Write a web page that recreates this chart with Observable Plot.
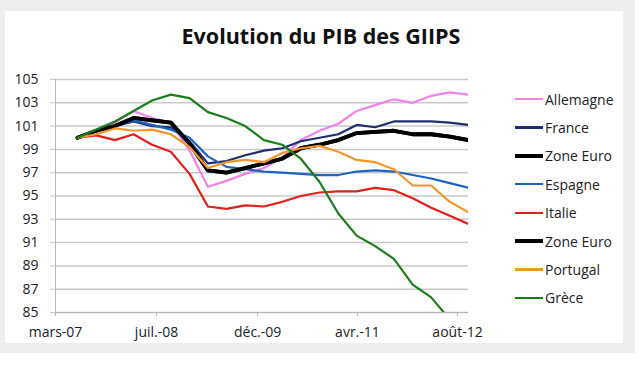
<!DOCTYPE html>
<html><head><meta charset="utf-8">
<script src="https://cdn.jsdelivr.net/npm/d3@7"></script>
<script src="https://cdn.jsdelivr.net/npm/@observablehq/plot@0.6"></script>
<style>
body{margin:0;background:#fff;font-family:"Open Sans",sans-serif;}
#frame{position:absolute;left:0;top:0;width:635px;height:353px;background:#efeeec;}
#panel{position:absolute;left:5px;top:11px;width:618px;height:332px;background:#fff;overflow:hidden;}
#title{position:absolute;left:166px;top:14px;width:300px;text-align:center;font-weight:bold;font-size:21.5px;line-height:21.5px;color:#111;white-space:nowrap;}
#chart{position:absolute;left:0;top:49px;}
#legend{position:absolute;left:510px;top:74px;}
.item{height:28.4px;display:flex;align-items:center;font-size:14px;color:#222;white-space:nowrap;}
.sw{width:28px;margin-right:2px;}
</style>
</head><body>
<div id="frame"><div id="panel">
<div id="title">Evolution du PIB des GIIPS</div>
<div id="chart"></div>
<div id="legend"></div>
</div></div>
<script>
// Quarterly observations
const dates = ["2007-07-01","2007-10-01","2008-01-01","2008-04-01","2008-07-01","2008-10-01",
  "2009-01-01","2009-04-01","2009-07-01","2009-10-01","2010-01-01","2010-04-01","2010-07-01",
  "2010-10-01","2011-01-01","2011-04-01","2011-07-01","2011-10-01","2012-01-01","2012-04-01",
  "2012-07-01","2012-10-01"];

const allemagne = [100, 100.6, 101.3, 102.3, 101.7, 101.3, 98.9, 95.8, 96.3, 96.9, 97.4, 98.3, 99.8, 100.6, 101.2, 102.3, 102.8, 103.3, 103.0, 103.6, 103.9, 103.7];
const france    = [100, 100.6, 101.0, 101.4, 101.0, 100.9, 99.7, 97.8, 98.0, 98.5, 98.9, 99.1, 99.7, 100.0, 100.3, 101.1, 100.9, 101.4, 101.4, 101.4, 101.3, 101.1];
const zoneEuro  = [100, 100.6, 101.0, 101.7, 101.5, 101.3, 99.5, 97.2, 97.0, 97.4, 97.8, 98.2, 99.1, 99.4, 99.8, 100.4, 100.5, 100.6, 100.3, 100.3, 100.1, 99.8];
const espagne   = [100, 100.6, 101.0, 101.5, 101.1, 100.7, 100.0, 98.4, 97.5, 97.3, 97.1, 97.0, 96.9, 96.8, 96.8, 97.1, 97.2, 97.1, 96.8, 96.5, 96.1, 95.7];
const italie    = [100, 100.2, 99.8, 100.3, 99.4, 98.8, 96.9, 94.1, 93.9, 94.2, 94.1, 94.5, 95.0, 95.3, 95.4, 95.4, 95.7, 95.5, 94.8, 94.0, 93.3, 92.6];
const portugal  = [100, 100.3, 100.8, 100.6, 100.7, 100.3, 99.2, 97.4, 97.9, 98.1, 97.9, 98.7, 99.1, 99.3, 98.8, 98.1, 97.9, 97.3, 95.9, 95.9, 94.5, 93.6];
const grece     = [100, 100.7, 101.4, 102.3, 103.2, 103.7, 103.4, 102.2, 101.7, 101.0, 99.8, 99.4, 98.2, 96.2, 93.5, 91.6, 90.7, 89.6, 87.4, 86.3, 84.4, 83.5];

const seriesNames = ["Allemagne","France","Zone Euro","Espagne","Italie","Zone Euro","Portugal","Grèce"];
const seriesValues = [allemagne, france, zoneEuro, espagne, italie, zoneEuro, portugal, grece];

// Axis ticks
const yTicks = [85, 87, 89, 91, 93, 95, 97, 99, 101, 103, 105];
const xTickDates = ["2007-03-15","2008-07-23","2009-12-01","2011-04-05","2012-08-08"];
const xTickLabels = ["mars-07","juil.-08","déc.-09","avr.-11","août-12"];
const xDomain = ["2007-03-15","2012-10-01"];
const yDomain = [85, 105];

// Styles
const colors = ["#ee82ee","#1f2d6e","#000000","#1f63c0","#e0201b","#000000","#f5962a","#1b7d1b"];
const widths = [2.2, 2.2, 3.8, 2.2, 2.2, 3.8, 2.2, 2.2];

const parse = d3.utcParse("%Y-%m-%d");
const tickDates = xTickDates.map(parse);
const labelOf = new Map(tickDates.map((d, i) => [+d, xTickLabels[i]]));

const lines = seriesNames.map((name, s) => {
  const rows = dates.map((d, i) => ({date: parse(d), value: seriesValues[s][i]}));
  return Plot.line(rows, {x: "date", y: "value", stroke: colors[s], strokeWidth: widths[s], clip: true, strokeLinejoin: "round"});
});

const chart = Plot.plot({
  width: 480, height: 283,
  marginLeft: 50, marginRight: 17, marginTop: 19, marginBottom: 31,
  style: {fontFamily: "'Open Sans', sans-serif", fontSize: "14px", color: "#222", background: "transparent"},
  x: {type: "utc", domain: xDomain.map(parse)},
  y: {domain: yDomain},
  marks: [
    Plot.gridY(yTicks, {stroke: "#c9c9c9", strokeOpacity: 1, strokeWidth: 1.5}),
    Plot.axisY(yTicks, {tickSize: 5, tickPadding: 12, stroke: "#c9c9c9", strokeOpacity: 1, label: null, tickFormat: d => String(d)}),
    Plot.axisX(tickDates, {tickSize: 4, tickPadding: 11, stroke: "#b5b5b5", label: null, tickFormat: d => labelOf.get(+d)}),
    Plot.ruleX([parse(xDomain[0])], {stroke: "#b5b5b5"}),
    Plot.ruleY([yDomain[0]], {stroke: "#b5b5b5"}),
    ...lines
  ]
});
document.getElementById("chart").appendChild(chart);

const legend = document.getElementById("legend");
seriesNames.forEach((name, s) => {
  const item = document.createElement("div");
  item.className = "item";
  const sw = document.createElement("div");
  sw.className = "sw";
  sw.style.height = widths[s] + "px";
  sw.style.background = colors[s];
  item.appendChild(sw);
  const t = document.createElement("span");
  t.textContent = name;
  item.appendChild(t);
  legend.appendChild(item);
});
</script>
</body></html>
